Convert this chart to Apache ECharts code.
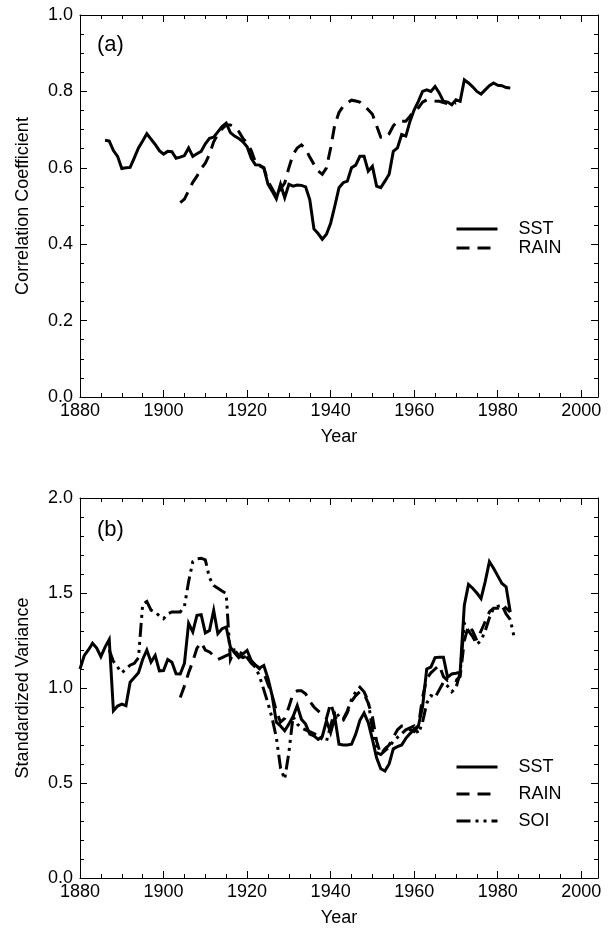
<!DOCTYPE html>
<html>
<head>
<meta charset="utf-8">
<script src="https://cdn.jsdelivr.net/npm/echarts@6/dist/echarts.min.js"></script>
<style>
  html, body { margin: 0; padding: 0; background: #fff; }
  #chart { width: 611px; height: 928px; }
</style>
</head>
<body>
<div id="chart"></div>
<script>
// ---- data: running correlation (panel a) and standardized variance (panel b) ----
const corrSstStart = 1886;
const corrSst = [
  0.672, 0.670, 0.645, 0.630, 0.598, 0.600, 0.601, 0.626, 0.652, 0.670,
  0.689, 0.675, 0.661, 0.645, 0.636, 0.643, 0.642, 0.625, 0.628, 0.632,
  0.652, 0.630, 0.637, 0.643, 0.663, 0.677, 0.680, 0.694, 0.708, 0.717,
  0.692, 0.683, 0.677, 0.668, 0.655, 0.625, 0.608, 0.607, 0.600, 0.557,
  0.539, 0.519, 0.557, 0.522, 0.557, 0.552, 0.555, 0.554, 0.550, 0.517,
  0.440, 0.428, 0.413, 0.426, 0.455, 0.500, 0.548, 0.561, 0.565, 0.600,
  0.607, 0.630, 0.630, 0.591, 0.604, 0.552, 0.548, 0.565, 0.583, 0.643,
  0.652, 0.687, 0.683, 0.722, 0.752, 0.774, 0.800, 0.804, 0.800, 0.813,
  0.796, 0.774, 0.772, 0.765, 0.778, 0.774, 0.830, 0.822, 0.812, 0.800,
  0.793, 0.804, 0.815, 0.822, 0.816, 0.815, 0.810, 0.809
];
const corrRainStart = 1904;
const corrRain = [
  0.509, 0.518, 0.540, 0.562, 0.578, 0.598, 0.612, 0.636, 0.668, 0.688,
  0.702, 0.712, 0.712, 0.706, 0.695, 0.677, 0.665, 0.645, 0.615, 0.605,
  0.600, 0.565, 0.545, 0.525, 0.545, 0.560, 0.600, 0.635, 0.652, 0.660,
  0.650, 0.628, 0.609, 0.592, 0.583, 0.600, 0.652, 0.713, 0.745, 0.761,
  0.770, 0.777, 0.775, 0.772, 0.763, 0.752, 0.740, 0.710, 0.680, 0.678,
  0.689, 0.710, 0.722, 0.722, 0.722, 0.735, 0.750, 0.757, 0.772, 0.778,
  0.777, 0.775, 0.774, 0.771, 0.768, 0.765, 0.770
];

const varSstStart = 1880;
const varSst = [
  1.100, 1.170, 1.200, 1.235, 1.210, 1.165, 1.215, 1.255, 0.880, 0.905,
  0.915, 0.907, 1.030, 1.055, 1.080, 1.150, 1.200, 1.136, 1.171, 1.090,
  1.092, 1.150, 1.136, 1.075, 1.074, 1.130, 1.340, 1.295, 1.383, 1.386,
  1.290, 1.303, 1.409, 1.286, 1.312, 1.321, 1.215, 1.185, 1.160, 1.180,
  1.198, 1.145, 1.120, 1.105, 1.118, 1.050, 0.960, 0.820, 0.800, 0.775,
  0.810, 0.850, 0.907, 0.836, 0.810, 0.757, 0.748, 0.730, 0.745, 0.827,
  0.765, 0.845, 0.704, 0.700, 0.700, 0.704, 0.757, 0.830, 0.868, 0.818,
  0.730, 0.633, 0.575, 0.563, 0.600, 0.680, 0.691, 0.700, 0.735, 0.760,
  0.783, 0.800, 0.900, 1.100, 1.110, 1.160, 1.162, 1.162, 1.056, 1.074,
  1.078, 1.083, 1.436, 1.545, 1.525, 1.500, 1.471, 1.560, 1.665, 1.630,
  1.590, 1.550, 1.533, 1.400
];
const varRainStart = 1904;
const varRain = [
  0.950, 1.010, 1.080, 1.140, 1.210, 1.240, 1.200, 1.190, 1.170, 1.150,
  1.160, 1.170, 1.180, 1.200, 1.170, 1.160, 1.170, 1.140, 1.120, 1.100,
  1.080, 1.020, 0.960, 0.880, 0.820, 0.840, 0.900, 0.970, 0.985, 0.985,
  0.970, 0.930, 0.900, 0.880, 0.860, 0.840, 0.920, 0.850, 0.820, 0.830,
  0.870, 0.930, 0.960, 0.980, 0.970, 0.920, 0.850, 0.720, 0.650, 0.680,
  0.700, 0.740, 0.780, 0.800, 0.800, 0.780, 0.770, 0.800, 0.950, 1.050,
  1.080, 1.100, 1.120, 1.060, 1.040, 1.050, 1.040, 1.060, 1.250, 1.330,
  1.300, 1.250, 1.300, 1.350, 1.400, 1.420, 1.420, 1.440, 1.420, 1.400
];
const varSoiStart = 1887;
const varSoi = [
  1.200, 1.140, 1.110, 1.080, 1.100, 1.120, 1.130, 1.160, 1.440, 1.455,
  1.410, 1.400, 1.380, 1.365, 1.390, 1.400, 1.400, 1.400, 1.430, 1.560,
  1.665, 1.680, 1.683, 1.674, 1.580, 1.540, 1.525, 1.510, 1.497, 1.150,
  1.200, 1.190, 1.180, 1.160, 1.130, 1.110, 1.060, 0.990, 0.920, 0.840,
  0.740, 0.580, 0.520, 0.660, 0.850, 0.810, 0.790, 0.780, 0.770, 0.760,
  0.750, 0.730, 0.720, 0.800, 0.880, 0.850, 0.836, 0.880, 0.940, 0.980,
  1.004, 0.980, 0.930, 0.780, 0.660, 0.650, 0.670, 0.690, 0.720, 0.740,
  0.760, 0.780, 0.790, 0.800, 0.760, 0.820, 0.920, 0.960, 0.950, 0.990,
  1.030, 1.010, 0.980, 1.000, 1.080, 1.340, 1.300, 1.270, 1.230, 1.250,
  1.300, 1.370, 1.420, 1.430, 1.436, 1.390, 1.360, 1.260
];

// ---- axis settings ----
const yearMin = 1880;
const yearMax = 2004;
const yearMajor = 20;
const yearMinor = 5;

const FONT = "'Liberation Sans', Arial, Helvetica, sans-serif";
const INK = '#000';

function pairs(start, vals) {
  return vals.map((v, i) => [start + i, v]);
}

// ticks point into the plot frame (negative length flips the outward tick)
function tick(len) {
  return { show: true, inside: false, length: -len, lineStyle: { color: INK, width: 1 } };
}

function xAxesFor(grid) {
  const base = {
    type: 'value', gridIndex: grid, min: yearMin, max: yearMax,
    splitLine: { show: false }
  };
  return [
    Object.assign({}, base, {
      position: 'bottom', interval: yearMajor,
      axisLine: { show: true, onZero: false, lineStyle: { color: INK, width: 1 } },
      axisTick: tick(7),
      axisLabel: {
        show: true, color: INK, fontFamily: FONT, fontSize: 18, margin: 5,
        formatter: v => (v % yearMajor === 0 ? String(v) : '')
      },
      name: 'Year', nameLocation: 'middle', nameGap: 31,
      nameTextStyle: { color: INK, fontFamily: FONT, fontSize: 18 }
    }),
    Object.assign({}, base, {
      position: 'bottom', interval: yearMinor,
      axisLine: { show: false, onZero: false },
      axisTick: tick(4),
      axisLabel: { show: false }
    }),
    Object.assign({}, base, {
      position: 'top', interval: yearMajor,
      axisLine: { show: true, onZero: false, lineStyle: { color: INK, width: 1 } },
      axisTick: tick(7),
      axisLabel: { show: false }
    }),
    Object.assign({}, base, {
      position: 'top', interval: yearMinor,
      axisLine: { show: false, onZero: false },
      axisTick: tick(4),
      axisLabel: { show: false }
    })
  ];
}

function yAxesFor(grid, max, major, minor, title) {
  const base = {
    type: 'value', gridIndex: grid, min: 0, max: max,
    splitLine: { show: false }
  };
  return [
    Object.assign({}, base, {
      position: 'left', interval: major,
      axisLine: { show: true, onZero: false, lineStyle: { color: INK, width: 1 } },
      axisTick: tick(7),
      axisLabel: {
        show: true, color: INK, fontFamily: FONT, fontSize: 18, margin: 7,
        formatter: v => v.toFixed(1)
      },
      name: title, nameLocation: 'middle', nameGap: 48, nameRotate: 90,
      nameTextStyle: { color: INK, fontFamily: FONT, fontSize: 18 }
    }),
    Object.assign({}, base, {
      position: 'left', interval: minor,
      axisLine: { show: false, onZero: false },
      axisTick: tick(4),
      axisLabel: { show: false }
    }),
    Object.assign({}, base, {
      position: 'right', interval: major,
      axisLine: { show: true, onZero: false, lineStyle: { color: INK, width: 1 } },
      axisTick: tick(7),
      axisLabel: { show: false }
    }),
    Object.assign({}, base, {
      position: 'right', interval: minor,
      axisLine: { show: false, onZero: false },
      axisTick: tick(4),
      axisLabel: { show: false }
    })
  ];
}

const styles = {
  SST: { color: INK, width: 3, type: 'solid' },
  RAIN: { color: INK, width: 3, type: [13, 8] },
  SOI: { color: INK, width: 3, type: [14, 5, 3, 5, 3, 5] }
};

function lineSeries(name, data, axis) {
  return {
    name: name, type: 'line', data: data,
    xAxisIndex: axis, yAxisIndex: axis,
    symbol: 'none', smooth: false, clip: true,
    lineStyle: Object.assign({ cap: 'butt', join: 'miter' }, styles[name]),
    itemStyle: { color: INK },
    emphasis: { disabled: true },
    animation: false
  };
}

const legendBase = {
  orient: 'vertical', left: 450, itemWidth: 41, itemHeight: 14,
  selectedMode: false,
  lineStyle: { width: 3 },
  itemStyle: { color: 'rgba(0,0,0,0)', borderColor: 'rgba(0,0,0,0)', borderWidth: 0, opacity: 0 },
  textStyle: { color: INK, fontFamily: FONT, fontSize: 18, padding: [0, 0, 0, 16] }
};

const chart = echarts.init(document.getElementById('chart'), null, { renderer: 'canvas' });
chart.setOption({
  backgroundColor: '#fff',
  animation: false,
  grid: [
    { left: 80, top: 15, width: 518, height: 382 },
    { left: 80, top: 498, width: 518, height: 380 }
  ],
  xAxis: xAxesFor(0).concat(xAxesFor(1)),
  yAxis: yAxesFor(0, 1.0, 0.2, 0.05, 'Correlation Coefficient')
    .concat(yAxesFor(1, 2.0, 0.5, 0.1, 'Standardized Variance')),
  legend: [
    Object.assign({}, legendBase, { top: 215, itemGap: 1, data: ['SST', 'RAIN'] }),
    Object.assign({}, legendBase, { top: 753, itemGap: 9, data: ['SST', 'RAIN', 'SOI'] })
  ],
  graphic: [
    { type: 'text', left: 97, top: 34, style: { text: '(a)', fill: INK, font: '22px ' + FONT } },
    { type: 'text', left: 97, top: 519, style: { text: '(b)', fill: INK, font: '22px ' + FONT } }
  ],
  series: [
    lineSeries('SST', pairs(corrSstStart, corrSst), 0),
    lineSeries('RAIN', pairs(corrRainStart, corrRain), 0),
    lineSeries('SST', pairs(varSstStart, varSst), 4),
    lineSeries('RAIN', pairs(varRainStart, varRain), 4),
    lineSeries('SOI', pairs(varSoiStart, varSoi), 4)
  ]
});
</script>
</body>
</html>
